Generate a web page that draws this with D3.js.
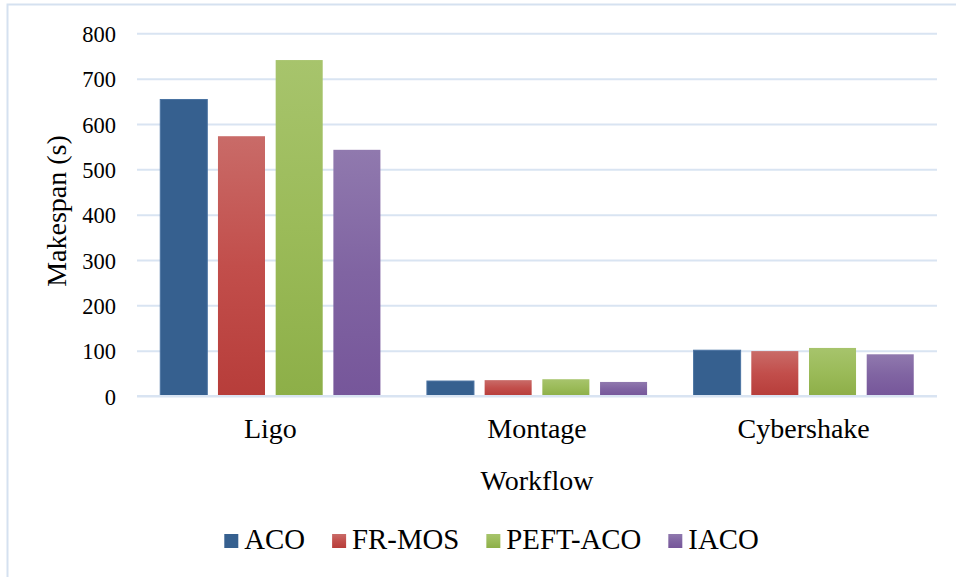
<!DOCTYPE html>
<html>
<head>
<meta charset="utf-8">
<script src="https://cdn.jsdelivr.net/npm/d3@7"></script>
<style>
  html, body { margin: 0; padding: 0; background: #fff; }
  svg { display: block; }
  svg text { font-family: 'Liberation Serif', 'Times New Roman', Times, 'DejaVu Serif', serif !important; fill: #000; }
</style>
</head>
<body>
<svg id="chart" width="956" height="577"></svg>
<script>
// Workflow categories and algorithm series (makespan in seconds)
const categories = ["Ligo", "Montage", "Cybershake"];
const seriesNames = ["ACO", "FR-MOS", "PEFT-ACO", "IACO"];
const aco     = [654, 33, 101];
const frmos   = [573, 35, 99];
const peftaco = [741, 37, 106];
const iaco    = [543, 31, 92];
const yTicks  = [0, 100, 200, 300, 400, 500, 600, 700, 800];

const seriesValues = [aco, frmos, peftaco, iaco];

const svg = d3.select("#chart");
const W = 956, H = 577;

// Outer chart frame
svg.append("rect")
  .attr("x", 7.5).attr("y", 4.5)
  .attr("width", W + 10).attr("height", H + 10)
  .attr("fill", "#fff")
  .attr("stroke", "#D5E1F0").attr("stroke-width", 2);

const plot = { left: 137, right: 937, top: 33.3, bottom: 396 };

const x0 = d3.scaleBand()
  .domain(categories)
  .range([plot.left, plot.right])
  .padding(0);

const x1 = d3.scaleBand()
  .domain(seriesNames)
  .range([0, x0.bandwidth()])
  .paddingInner(0.185)
  .paddingOuter(0.403);

const y = d3.scaleLinear()
  .domain([0, 800])
  .range([plot.bottom, plot.top]);

// Bar fills: solid blue plus vertical gradients for the other series
const defs = svg.append("defs");
const gradStops = {
  "FR-MOS":   ["#C96B68", "#C24E4B", "#B73D3A"],
  "PEFT-ACO": ["#A7C46C", "#9BBB59", "#8DAF48"],
  "IACO":     ["#9079AE", "#8064A2", "#76569A"]
};
Object.entries(gradStops).forEach(([name, stops], i) => {
  const g = defs.append("linearGradient")
    .attr("id", "grad" + i)
    .attr("x1", 0).attr("y1", 0).attr("x2", 0).attr("y2", 1);
  stops.forEach((c, k) => g.append("stop").attr("offset", k / 2).attr("stop-color", c));
});
const fills = {
  "ACO": "#36608F",
  "FR-MOS": "url(#grad0)",
  "PEFT-ACO": "url(#grad1)",
  "IACO": "url(#grad2)"
};

// Horizontal gridlines and value labels
const yAxis = d3.axisLeft(y).tickValues(yTicks).tickSize(-(plot.right - plot.left)).tickPadding(21);
const gy = svg.append("g")
  .attr("transform", `translate(${plot.left},0)`)
  .call(yAxis)
  .attr("font-family", null);
gy.select(".domain").remove();
gy.selectAll(".tick line")
  .attr("stroke", "#D9E4F2").attr("stroke-width", 2);
gy.selectAll(".tick text")
  .attr("font-size", 22.5)
  .attr("fill", "#000")
  .attr("dy", "0.36em");

// Bars
const groups = svg.append("g").selectAll("g")
  .data(categories)
  .join("g")
  .attr("transform", d => `translate(${x0(d)},0)`);

groups.selectAll("rect")
  .data((d, ci) => seriesNames.map((s, si) => ({ s, v: seriesValues[si][ci] })))
  .join("rect")
  .attr("x", d => x1(d.s))
  .attr("width", x1.bandwidth())
  .attr("y", d => y(d.v))
  .attr("height", d => y(0) - y(d.v))
  .attr("fill", d => fills[d.s])
  .attr("stroke", d => d.s === "ACO" ? "#4A73A2" : "none")
  .attr("stroke-width", 1);

// Baseline on top of bars
svg.append("line")
  .attr("x1", plot.left).attr("x2", plot.right)
  .attr("y1", y(0)).attr("y2", y(0))
  .attr("stroke", "#D9E4F2").attr("stroke-width", 2);

// Category labels
const xAxis = d3.axisBottom(x0).tickSize(0).tickPadding(0);
const gx = svg.append("g").attr("transform", `translate(0,${plot.bottom})`).call(xAxis)
  .attr("font-family", null);
gx.select(".domain").remove();
gx.selectAll(".tick text")
  .attr("font-size", 28)
  .attr("fill", "#000")
  .attr("dy", 42);

// Axis titles
svg.append("text")
  .attr("x", (plot.left + plot.right) / 2).attr("y", 490)
  .attr("text-anchor", "middle").attr("font-size", 28)
  .text("Workflow");

svg.append("text")
  .attr("transform", "translate(66,211) rotate(-90)")
  .attr("text-anchor", "middle").attr("font-size", 28)
  .text("Makespan (s)");

// Legend, centred under the whole chart frame
const legend = svg.append("g");
let lx = 0;
seriesNames.forEach((s, i) => {
  const g = legend.append("g").attr("transform", `translate(${lx},0)`);
  g.append("rect").attr("x", 0).attr("y", 534).attr("width", 14).attr("height", 14)
    .attr("fill", fills[s]);
  const t = g.append("text").attr("x", 20).attr("y", 549).attr("font-size", 28.8).text(s);
  lx += 20 + t.node().getComputedTextLength() + 27;
});
const legendWidth = lx - 27;
legend.attr("transform", `translate(${491.5 - legendWidth / 2},0)`);
</script>
</body>
</html>
